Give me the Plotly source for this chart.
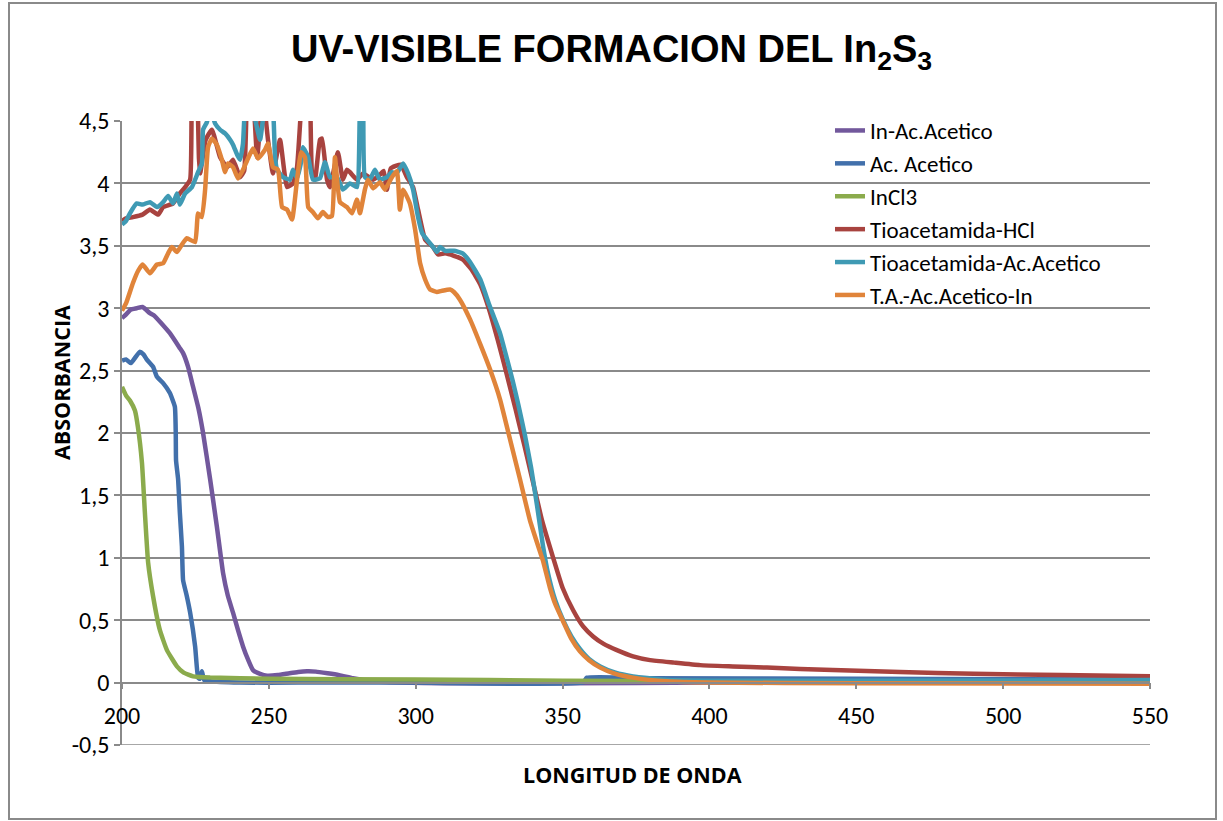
import plotly.graph_objects as go

# Wavelength (nm) / absorbance pairs for each sample
in_acetico_x = [200, 201.4, 203, 205, 207, 209.5, 211, 213, 216.3, 219.7, 220.8, 222.5, 224.2, 226, 227.6,
                230, 232.3, 234.4, 236, 237.8, 239.5, 241.2, 243, 244.6, 247, 249.4, 253, 257, 260, 263,
                266, 270, 274, 278.6, 285, 295, 310, 350, 400, 450, 500, 550]
in_acetico_y = [2.92, 2.95, 2.99, 3.00, 3.01, 2.96, 2.94, 2.89, 2.80, 2.68, 2.64, 2.53, 2.37, 2.20, 2.00,
                1.63, 1.25, 0.88, 0.70, 0.56, 0.42, 0.29, 0.18, 0.10, 0.07, 0.055, 0.06, 0.075, 0.085, 0.09,
                0.088, 0.075, 0.06, 0.035, 0.01, 0.0, -0.005, -0.005, 0.0, 0.0, 0.0, 0.0]

ac_acetico_x = [200, 201.4, 203, 206, 207.3, 208.4, 210.6, 211.9, 214, 216.3, 218, 218.3, 218.4, 219.1,
                219.7, 220.4, 220.8, 222, 223.2, 224.9, 225.9, 226.5, 227.2, 228, 230, 240, 260, 300,
                357, 358.3, 380, 450, 550]
ac_acetico_y = [2.58, 2.59, 2.56, 2.65, 2.63, 2.59, 2.53, 2.45, 2.40, 2.32, 2.21, 2.0, 1.78, 1.63,
                1.36, 1.09, 0.82, 0.70, 0.56, 0.29, 0.04, 0.03, 0.09, 0.02, 0.01, 0.0, 0.0, 0.0,
                0.0, 0.04, 0.035, 0.03, 0.025]

incl3_x = [200, 201.4, 202.7, 204.4, 205.4, 206.8, 207.8, 208.9, 210.6, 212.9, 215.3, 218.7, 221,
           224.2, 230, 250, 300, 350, 400, 450, 550]
incl3_y = [2.37, 2.30, 2.26, 2.18, 2.05, 1.76, 1.36, 0.96, 0.69, 0.42, 0.26, 0.13, 0.08,
           0.05, 0.04, 0.03, 0.025, 0.015, 0.01, 0.005, 0.0]

tioa_hcl_x = [200, 201.4, 203.7, 207, 209.5, 212.3, 214, 217.4, 219.7, 221.5, 223.2, 223.8, 224.5, 225.5,
              226.2, 226.6, 228.5, 230.6, 233.4, 235.8, 237.8, 240.2, 241.6, 242.6, 243.5, 244.6, 246,
              248, 249.7, 251.4, 253.8, 256.2, 258.2, 259.6, 261.6, 262.8, 264, 264.7, 265.7, 267.4,
              268.1, 269.8, 270.8, 273.5, 275.2, 276.6, 277.6, 280, 282.1, 285.5, 287.8, 289.1, 290.2,
              291.5, 294.9, 297, 299.1, 300.8, 303.2, 305.9, 307.6, 310, 313, 316, 319, 322, 325, 328,
              331, 334, 337, 340, 343, 346.8, 350, 353.6, 357, 360.4, 364, 368.5, 374, 379.8, 388,
              396.8, 408, 419.6, 442, 464.9, 490, 520, 550]
tioa_hcl_y = [3.70, 3.72, 3.73, 3.75, 3.79, 3.75, 3.81, 3.84, 3.92, 3.97, 4.03, 4.8, 4.9, 4.8,
              4.2, 4.08, 4.35, 4.43, 4.21, 4.13, 4.19, 4.05, 4.10, 4.7, 4.6, 4.7, 4.21,
              4.7, 4.35, 4.08, 4.35, 3.97, 4.0, 4.13, 4.8, 4.9, 4.7, 4.08, 4.03, 4.35,
              4.36, 4.03, 3.97, 4.25, 4.03, 4.11, 4.09, 4.03, 4.08, 4.03, 4.07, 4.10, 3.95,
              4.12, 4.15, 4.05, 3.97, 3.79, 3.55, 3.49, 3.43, 3.44, 3.42, 3.39, 3.31, 3.19, 2.99, 2.74,
              2.47, 2.19, 1.90, 1.60, 1.30, 1.0, 0.76, 0.58, 0.45, 0.37, 0.31, 0.26, 0.21, 0.18, 0.16,
              0.14, 0.13, 0.12, 0.10, 0.085, 0.07, 0.06, 0.05]

tioa_acet_x = [200, 201.4, 202.7, 205, 207, 209.5, 211.9, 214, 215.7, 217.4, 218.7, 219.7, 221.5, 223.8,
               225.9, 227.2, 227.6, 228.9, 230, 231.7, 233.4, 235.1, 236.8, 237.8, 239.2, 240.2, 241.2,
               241.9, 243.6, 245, 247, 248.5, 250, 251.4, 252.1, 252.8, 254.8, 257.2, 258.2, 259.6,
               261.3, 261.6, 263.4, 265, 267.4, 269.1, 270.8, 273.2, 275.2, 277.6, 280, 281, 282.1,
               282.7, 284.4, 286.1, 287.8, 290.2, 291.9, 293.5, 295.7, 297.4, 299.1, 300.8, 302.2,
               303.8, 305.9, 307.2, 308.3, 310, 313, 316, 318.5, 322, 325, 328.7, 331, 333, 335, 337.2,
               339.3, 341.3, 343.3, 345, 347.5, 350.2, 353, 355.9, 359, 362.8, 368, 374, 385.6, 400,
               450, 550]
tioa_acet_y = [3.67, 3.70, 3.76, 3.84, 3.83, 3.85, 3.81, 3.85, 3.90, 3.84, 3.92, 3.83, 3.92, 3.97,
               4.09, 4.16, 4.43, 4.49, 4.6, 4.48, 4.43, 4.40, 4.35, 4.31, 4.23, 4.19, 4.32,
               4.6, 4.7, 4.55, 4.35, 4.6, 4.7, 4.6, 4.21, 4.11, 4.05, 4.03, 4.11, 4.04,
               4.21, 4.29, 4.21, 4.03, 4.04, 4.17, 4.05, 4.05, 3.95, 4.00, 3.97, 4.6, 4.9,
               4.05, 4.03, 4.11, 4.03, 4.05, 4.09, 4.08, 4.16, 4.08, 3.95, 3.73, 3.60,
               3.55, 3.49, 3.45, 3.49, 3.46, 3.46, 3.44, 3.37, 3.23, 3.03, 2.80, 2.60, 2.42, 2.22, 1.98,
               1.72, 1.42, 1.10, 0.88, 0.66, 0.50, 0.37, 0.27, 0.19, 0.13, 0.08, 0.05, 0.02, 0.015,
               0.015, 0.02]

ta_acet_in_x = [200, 201.4, 203.7, 205.5, 207, 209.5, 211.9, 214, 215.7, 217, 218.7, 220.4, 222.1, 224.9,
                225.9, 227.2, 228.3, 229.3, 230.6, 232.3, 234, 235.1, 236.1, 237.8, 239.5, 241.2, 242.9,
                244.6, 246.3, 248.7, 249.7, 251.4, 253.1, 254.5, 256.2, 257.9, 259.6, 261, 262.3, 263.4,
                265, 266.7, 268.4, 270.1, 271.5, 272.5, 274.2, 276.6, 278.3, 280, 281, 282.7, 283.7,
                285.5, 287.8, 289.5, 291.9, 293.6, 294.6, 295.7, 298, 299.8, 301.5, 303.2, 304.9, 307.2,
                309, 311.7, 313, 315, 318.5, 322, 325.3, 328.7, 332.1, 335.5, 338.9, 342.3, 343.3, 345.7,
                347.5, 350.2, 353, 355.9, 359, 362.8, 368, 374, 385.6, 400, 450, 550]
ta_acet_in_y = [2.98, 3.04, 3.20, 3.30, 3.35, 3.28, 3.35, 3.36, 3.44, 3.49, 3.45, 3.51, 3.56, 3.53,
                3.76, 3.73, 3.95, 4.29, 4.36, 4.31, 4.19, 4.09, 4.16, 4.13, 4.04, 4.11, 4.20,
                4.28, 4.20, 4.27, 4.32, 4.13, 4.11, 3.81, 3.79, 3.71, 4.03, 4.25, 4.21, 3.81,
                3.77, 3.72, 3.77, 3.73, 3.74, 4.21, 3.85, 3.81, 3.76, 3.87, 3.76, 3.95, 4.03,
                3.96, 4.01, 3.95, 4.05, 4.10, 3.79, 3.95, 3.84, 3.63, 3.36, 3.23, 3.15, 3.13,
                3.14, 3.15, 3.13, 3.07, 2.91, 2.71, 2.51, 2.27, 1.95, 1.63, 1.30, 1.05, 0.98, 0.76,
                0.63, 0.49, 0.35, 0.25, 0.18, 0.12, 0.07, 0.04, 0.01, 0.0, -0.005, -0.01]

series = [
    ("In-Ac.Acetico", in_acetico_x, in_acetico_y, "#72589C"),
    ("Ac. Acetico", ac_acetico_x, ac_acetico_y, "#4270AB"),
    ("InCl3", incl3_x, incl3_y, "#8BAB4C"),
    ("Tioacetamida-HCl", tioa_hcl_x, tioa_hcl_y, "#A8433F"),
    ("Tioacetamida-Ac.Acetico", tioa_acet_x, tioa_acet_y, "#3F9AB4"),
    ("T.A.-Ac.Acetico-In", ta_acet_in_x, ta_acet_in_y, "#E0843A"),
]

x_ticks = [200, 250, 300, 350, 400, 450, 500, 550]
y_ticks = [-0.5, 0, 0.5, 1, 1.5, 2, 2.5, 3, 3.5, 4, 4.5]
y_tick_text = ["-0,5", "0", "0,5", "1", "1,5", "2", "2,5", "3", "3,5", "4", "4,5"]

body_font = "Carlito, Calibri, Lato, sans-serif"
title_font = "Open Sans, Noto Sans, sans-serif"
grid_color = "#8A8A8A"

fig = go.Figure()
for name, xs, ys, color in series:
    fig.add_trace(go.Scatter(x=xs, y=ys, mode="lines", name=name,
                             line=dict(color=color, width=4.5, shape="spline", smoothing=0.4)))

fig.update_layout(
    width=1223, height=821,
    margin=dict(l=122, r=73, t=121, b=76),
    paper_bgcolor="white", plot_bgcolor="white",
    separators=",.",
    title=dict(
        text="UV-VISIBLE FORMACION DEL In<sub>2</sub>S<sub>3</sub>",
        x=0.5, xanchor="center", xref="container",
        y=1 - 49 / 821, yanchor="middle", yref="container",
        font=dict(family="Liberation Sans Narrow, Arial Narrow, Liberation Sans, Arial",
                  size=38, color="black", weight="bold"),
    ),
    showlegend=True,
    legend=dict(x=(830 - 122) / 1028, y=1 + 12 / 624, xanchor="left", yanchor="top",
                bgcolor="rgba(0,0,0,0)", font=dict(family=body_font, size=23, color="black"),
                tracegroupgap=0),
    xaxis=dict(range=[200, 550], tickvals=x_ticks, anchor="free", position=0.1,
               showline=True, linecolor=grid_color, linewidth=1.5,
               ticks="outside", ticklen=6, tickcolor=grid_color, tickwidth=1.5,
               ticklabelstandoff=6,
               showgrid=False, zeroline=False,
               tickfont=dict(family=body_font, size=24, color="black")),
    yaxis=dict(range=[-0.5, 4.5], tickvals=y_ticks, ticktext=y_tick_text,
               showline=True, linecolor=grid_color, linewidth=1.5,
               ticks="outside", ticklen=6, tickcolor=grid_color, tickwidth=1.5,
               showgrid=True, gridcolor=grid_color, gridwidth=1.5, zeroline=False,
               tickfont=dict(family=body_font, size=24, color="black")),
)

# Bottom gridline at the lower edge of the plot area
fig.add_shape(type="line", xref="paper", yref="y", x0=0, x1=1, y0=-0.5, y1=-0.5,
              line=dict(color=grid_color, width=1.5), layer="below")

# Axis titles
fig.add_annotation(text="<b>ABSORBANCIA</b>", xref="paper", yref="paper",
                   x=(62 - 122) / 1028, y=(745 - 383) / 624, textangle=-90,
                   xanchor="center", yanchor="middle",
                   showarrow=False, font=dict(family=title_font, size=21.5, color="black"))
fig.add_annotation(text="<b>LONGITUD DE ONDA</b>", xref="paper", yref="paper",
                   x=(632 - 122) / 1028, y=(745 - 774) / 624,
                   xanchor="center", yanchor="middle",
                   showarrow=False, font=dict(family=title_font, size=21.5, color="black"))

# Chart frame
fig.add_shape(type="rect", xref="paper", yref="paper",
              x0=(9 - 122) / 1028, x1=(1216 - 122) / 1028,
              y0=(745 - 819) / 624, y1=(745 - 3) / 624,
              line=dict(color="#8A8A8A", width=2), fillcolor="rgba(0,0,0,0)", layer="below")

fig.write_html("out.html")
